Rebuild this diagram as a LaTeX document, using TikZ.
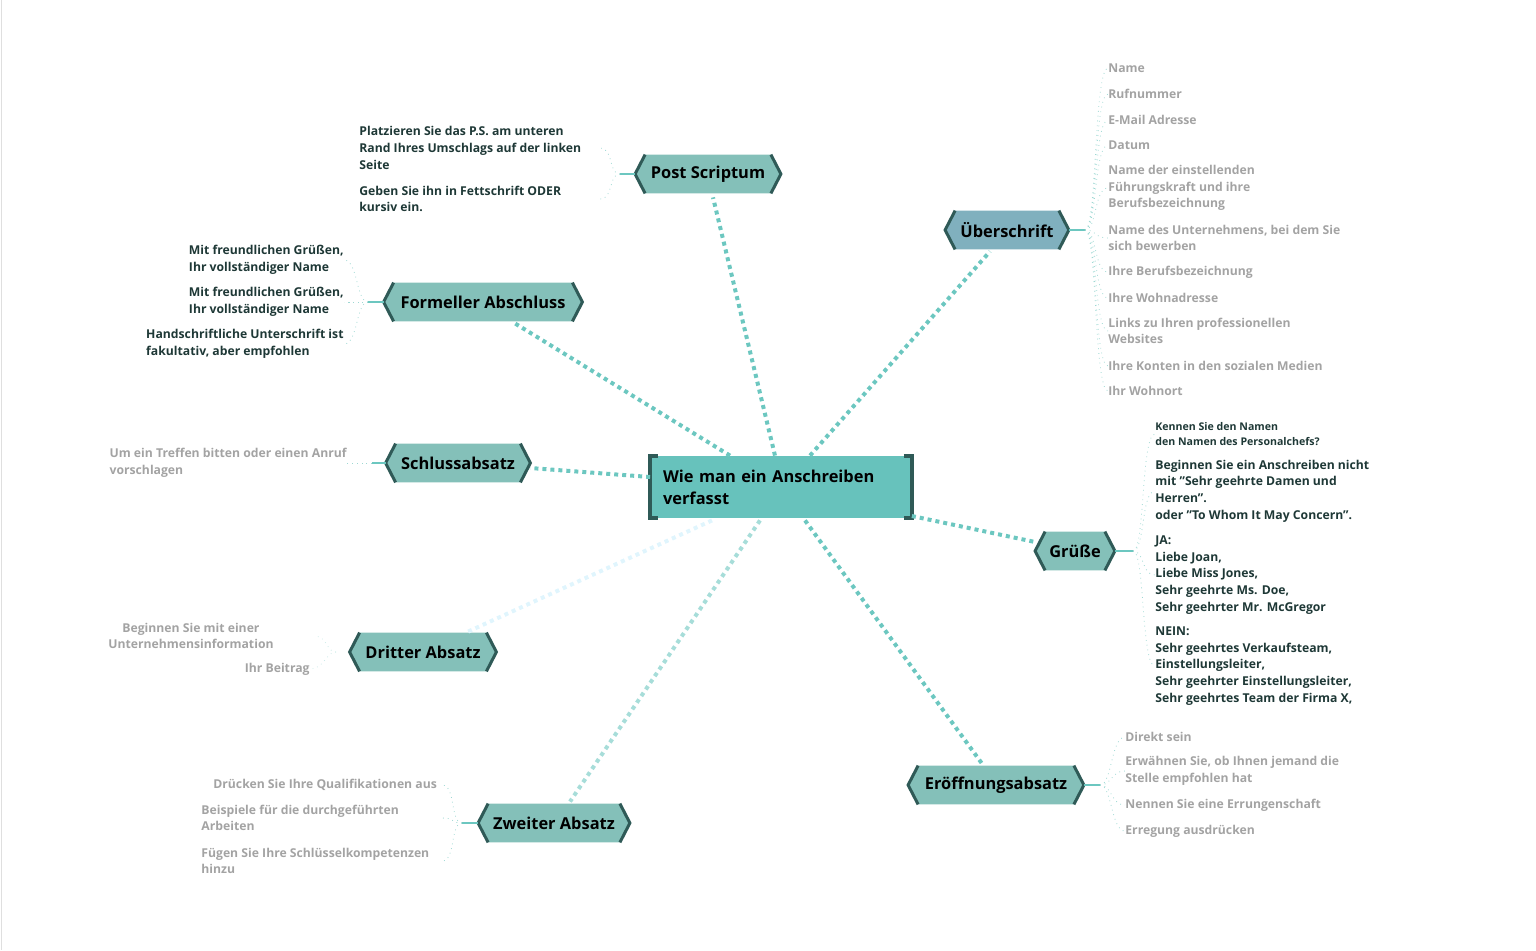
\documentclass[tikz,border=0pt]{standalone}
\usepackage{fontspec}
\setmainfont{Open Sans}
\usetikzlibrary{calc}
\pgfdeclarelayer{background}
\pgfsetlayers{background,main}
\definecolor{hexA}{HTML}{84C0B9}
\definecolor{hexB}{HTML}{80B0BE}
\definecolor{cen}{HTML}{67C2BC}
\definecolor{dk}{HTML}{2F5A57}
\definecolor{con}{HTML}{6CC7C0}
\definecolor{lc}{HTML}{9ED8D3}
\definecolor{gr}{HTML}{A3A3A3}
\definecolor{dt}{HTML}{1E3836}
\tikzset{
 hex/.style={inner sep=0pt, minimum height=19pt, font=\fontsize{8.2}{10}\selectfont\bfseries, text=black},
 cen/.style={inner sep=0pt, align=left, text width=118pt, minimum width=130.5pt, minimum height=31pt, font=\fontsize{8.2}{11}\selectfont\bfseries, text=black, fill=cen},
 leafg/.style={inner sep=0pt, align=left, font=\fontsize{6.1}{8.3}\selectfont\bfseries, text=gr},
 leafd/.style={inner sep=0pt, align=left, font=\fontsize{6.1}{8.3}\selectfont\bfseries, text=dt},
 mc/.style={line width=2pt, dash pattern=on 2pt off 2pt, color=con},
 lk/.style={line width=0.4pt, dotted, color=lc},
}
\newcommand{\hexbg}[2]{%
 \begin{pgfonlayer}{background}
 \fill[#2] (#1.north west) -- (#1.north east) -- ($(#1.east)+(10,0)$) -- (#1.south east) -- (#1.south west) -- ($(#1.west)+(-10,0)$) -- cycle;
 \draw[dk, line width=1.5pt] (#1.north west) -- ($(#1.west)+(-10,0)$) -- (#1.south west);
 \draw[dk, line width=1.5pt] (#1.north east) -- ($(#1.east)+(10,0)$) -- (#1.south east);
 \end{pgfonlayer}}
\newcommand{\lkR}[2]{\draw[lk] (#1) .. controls +(12,0) and +(-14,0) .. (#2.west);}
\newcommand{\lkL}[2]{\draw[lk] (#1) .. controls +(-12,0) and +(14,0) .. (#2.east);}
\begin{document}
\begin{tikzpicture}[x=0.5pt,y=-0.5pt]
\useasboundingbox (0,0) rectangle (1536,950);
\draw[gray!25, line width=0.5pt] (1,0) -- (1,950);
% central
\node[cen] (c) at (781,487) {Wie man ein Anschreiben\\verfasst};
\draw[dk, line width=2pt] ($(c.north west)+(8,0)$) -- (c.north west) -- (c.south west) -- ++(8,0);
\draw[dk, line width=2pt] ($(c.north east)+(-8,0)$) -- (c.north east) -- (c.south east) -- ++(-8,0);
% main nodes
\node[hex, minimum width=62.5pt] (ps) at (708,174) {Post Scriptum}; \hexbg{ps}{hexA}
\node[hex, minimum width=51.5pt] (ub) at (1007,230) {Überschrift}; \hexbg{ub}{hexB}
\node[hex, minimum width=89pt] (fa) at (483,302) {Formeller Abschluss}; \hexbg{fa}{hexA}
\node[hex, minimum width=62pt] (sa) at (458,463) {Schlussabsatz}; \hexbg{sa}{hexA}
\node[hex, minimum width=29.5pt] (gu) at (1075,551) {Grüße}; \hexbg{gu}{hexA}
\node[hex, minimum width=63pt] (da) at (423,652) {Dritter Absatz}; \hexbg{da}{hexA}
\node[hex, minimum width=65.5pt] (za) at (554,823) {Zweiter Absatz}; \hexbg{za}{hexA}
\node[hex, minimum width=77.5pt] (eo) at (996,785) {Eröffnungsabsatz}; \hexbg{eo}{hexA}
% main connectors
\draw[mc] ($(c.north)+(-6,0)$) -- ($(ps.south)+(5,4)$);
\draw[mc] ($(c.north)+(29,0)$) -- ($(ub.south)+(-17,2)$);
\draw[mc] ($(c.north)+(-51,0)$) -- ($(fa.south)+(32,2)$);
\draw[mc] ($(c.west)+(0,-10)$) -- ($(sa.east)+(10,5)$);
\draw[mc] ($(c.east)+(0,29)$) -- ($(gu.west)+(-10,-9)$);
\draw[mc, color=cyan!12] ($(c.south)+(-69,2)$) -- ($(da.north)+(45,-1)$);
\draw[mc, color=con!60] ($(c.south)+(-21,2)$) -- ($(za.north)+(16,-2)$);
\draw[mc] ($(c.south)+(24,2)$) -- ($(eo.north)+(-14,-2)$);
% Überschrift leaves
\coordinate (hu) at (1085,230);
\draw[con, line width=0.8pt] ($(ub.east)+(10,0)$) -- (hu);
\node[leafg, anchor=west] (u1) at (1108,68) {Name};
\node[leafg, anchor=west] (u2) at (1108,94) {Rufnummer};
\node[leafg, anchor=west] (u3) at (1108,120) {E-Mail Adresse};
\node[leafg, anchor=west] (u4) at (1108,145) {Datum};
\node[leafg, anchor=west] (u5) at (1108,188) {Name der einstellenden\\Führungskraft und ihre\\Berufsbezeichnung};
\node[leafg, anchor=west] (u6) at (1108,238) {Name des Unternehmens, bei dem Sie\\sich bewerben};
\node[leafg, anchor=west] (u7) at (1108,272) {Ihre Berufsbezeichnung};
\node[leafg, anchor=west] (u8) at (1108,298) {Ihre Wohnadresse};
\node[leafg, anchor=west] (u9) at (1108,331) {Links zu Ihren professionellen\\Websites};
\node[leafg, anchor=west] (u10) at (1108,366) {Ihre Konten in den sozialen Medien};
\node[leafg, anchor=west] (u11) at (1108,391) {Ihr Wohnort};
\foreach \i in {1,...,11} {\lkR{hu}{u\i}}
% Grüße leaves
\coordinate (hg) at (1133,551);
\draw[con, line width=0.6pt] ($(gu.east)+(10,0)$) -- (hg);
\node[leafd, anchor=west, font=\fontsize{5.3}{7.4}\selectfont\bfseries] (g1) at (1155,434) {Kennen Sie den Namen\\den Namen des Personalchefs?};
\node[leafd, anchor=west] (g2) at (1155,491) {Beginnen Sie ein Anschreiben nicht\\mit "Sehr geehrte Damen und\\Herren".\\oder "To Whom It May Concern".};
\node[leafd, anchor=west] (g3) at (1155,575) {JA:\\Liebe Joan,\\Liebe Miss Jones,\\Sehr geehrte Ms. Doe,\\Sehr geehrter Mr. McGregor};
\node[leafd, anchor=west] (g4) at (1155,666) {NEIN:\\Sehr geehrtes Verkaufsteam,\\Einstellungsleiter,\\Sehr geehrter Einstellungsleiter,\\Sehr geehrtes Team der Firma X,};
\foreach \i in {1,...,4} {\lkR{hg}{g\i}}
% Eröffnung leaves
\coordinate (he) at (1100,785);
\draw[con, line width=0.6pt] ($(eo.east)+(10,0)$) -- (he);
\node[leafg, anchor=west] (e1) at (1125,737) {Direkt sein};
\node[leafg, anchor=west] (e2) at (1125,771) {Erwähnen Sie, ob Ihnen jemand die\\Stelle empfohlen hat};
\node[leafg, anchor=west] (e3) at (1125,805) {Nennen Sie eine Errungenschaft};
\node[leafg, anchor=west] (e4) at (1125,831) {Erregung ausdrücken};
\foreach \i in {1,...,4} {\lkR{he}{e\i}}
% Post Scriptum leaves
\coordinate (hp) at (620,174);
\draw[con, line width=0.6pt] ($(ps.west)+(-10,0)$) -- (hp);
\node[leafd, anchor=west] (p1) at (359,148) {Platzieren Sie das P.S. am unteren\\Rand Ihres Umschlags auf der linken\\Seite};
\node[leafd, anchor=west] (p2) at (359,199) {Geben Sie ihn in Fettschrift ODER\\kursiv ein.};
\coordinate (p1e) at (600,148); \coordinate (p2e) at (600,199);
\draw[lk] (hp) .. controls +(-12,0) and +(14,0) .. (p1e);
\draw[lk] (hp) .. controls +(-12,0) and +(14,0) .. (p2e);
% Formeller leaves
\coordinate (hf) at (368,302);
\draw[con, line width=0.6pt] ($(fa.west)+(-10,0)$) -- (hf);
\node[leafd, anchor=east] (f1) at (344,260) {Mit freundlichen Grüßen,\\Ihr vollständiger Name};
\node[leafd, anchor=east] (f2) at (344,302) {Mit freundlichen Grüßen,\\Ihr vollständiger Name};
\node[leafd, anchor=east] (f3) at (344,344) {Handschriftliche Unterschrift ist\\fakultativ, aber empfohlen};
\foreach \i in {1,...,3} {\lkL{hf}{f\i}}
% Schluss leaf
\coordinate (hs) at (372,463);
\draw[con, line width=0.6pt] ($(sa.west)+(-10,0)$) -- (hs);
\node[leafg, anchor=east] (s1) at (347,463) {Um ein Treffen bitten oder einen Anruf\\vorschlagen};
\lkL{hs}{s1}
% Dritter leaves
\coordinate (hd) at (336,652);
\node[leafg, anchor=east, align=center] (d1) at (274,636) {Beginnen Sie mit einer\\Unternehmensinformation};
\node[leafg, anchor=east] (d2) at (310,669) {Ihr Beitrag};
\draw[lk, color=lc!50] (hd) .. controls +(-10,0) and +(14,0) .. ($(d1.east)+(40,0)$);
\draw[lk, color=lc!50] (hd) .. controls +(-10,0) and +(14,0) .. (d2.east);
% Zweiter leaves
\coordinate (hz) at (462,823);
\draw[con, line width=0.6pt] ($(za.west)+(-10,0)$) -- (hz);
\node[leafg, anchor=west] (z1) at (213,785) {Drücken Sie Ihre Qualifikationen aus};
\node[leafg, anchor=west] (z2) at (201,818) {Beispiele für die durchgeführten\\Arbeiten};
\node[leafg, anchor=west] (z3) at (201,861) {Fügen Sie Ihre Schlüsselkompetenzen\\hinzu};
\coordinate (z1e) at (442,785); \coordinate (z2e) at (442,818); \coordinate (z3e) at (442,861);
\foreach \i in {1,...,3} {\draw[lk] (hz) .. controls +(-12,0) and +(14,0) .. (z\i e);}
\end{tikzpicture}
\end{document}
